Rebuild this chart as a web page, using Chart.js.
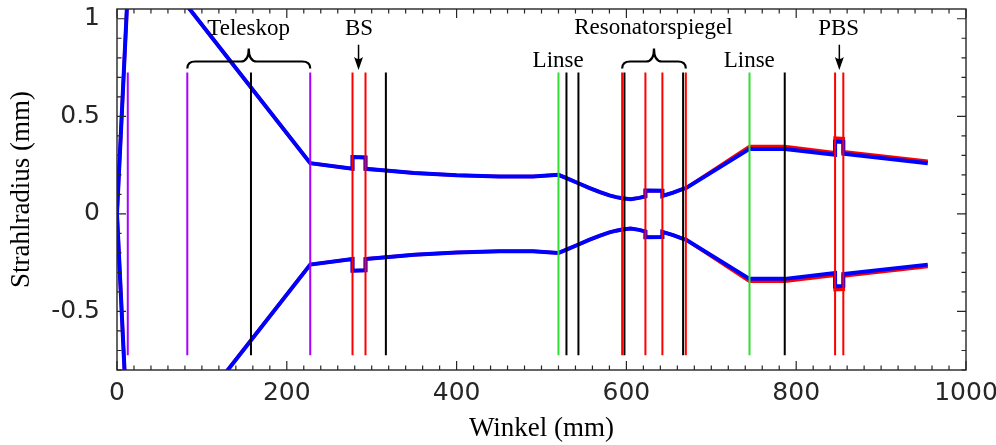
<!DOCTYPE html>
<html>
<head>
<meta charset="utf-8">
<script src="https://cdn.jsdelivr.net/npm/chart.js@4.4.0/dist/chart.umd.min.js"></script>
<style>
  html, body { margin: 0; padding: 0; background: #fff; }
  #wrap { width: 996px; height: 445px; }
</style>
</head>
<body>
<div id="wrap"><canvas id="chart" width="996" height="445"></canvas></div>
<script>
// beam positions along the path (mm); repeated x = step inside an element
const beamX = [0, 12.7, 82.8, 227.6, 277.4, 277.4, 292.7, 292.7, 316.7, 350, 400, 450, 490, 520,
  529.4, 543.5, 556, 569, 580, 588, 595, 605, 615, 622.4, 622.4, 642.4, 642.4, 655, 666.8, 670,
  745, 786.5, 845.8, 845.8, 855.5, 855.5, 955];

const blueUpper = [0, 1.15, 1.065, 0.26, 0.231, 0.291, 0.289, 0.231, 0.222, 0.21, 0.198, 0.191, 0.192, 0.2,
  0.183, 0.157, 0.133, 0.111, 0.095, 0.086, 0.08, 0.075, 0.082, 0.09, 0.12, 0.119, 0.092, 0.109, 0.128, 0.132,
  0.333, 0.333, 0.303, 0.371, 0.369, 0.308, 0.26];
const blueLower = [0, -1.15, -1.065, -0.26, -0.231, -0.291, -0.289, -0.231, -0.222, -0.21, -0.198, -0.191, -0.192, -0.2,
  -0.183, -0.157, -0.133, -0.111, -0.095, -0.086, -0.08, -0.075, -0.082, -0.09, -0.12, -0.119, -0.092, -0.109, -0.128, -0.132,
  -0.333, -0.333, -0.303, -0.371, -0.369, -0.308, -0.26];

const redUpper = [0, 1.15, 1.065, 0.26, 0.231, 0.291, 0.289, 0.231, 0.222, 0.21, 0.198, 0.191, 0.192, 0.2,
  0.183, 0.157, 0.133, 0.111, 0.095, 0.086, 0.08, 0.075, 0.082, 0.09, 0.12, 0.119, 0.092, 0.109, 0.128, 0.132,
  0.345, 0.345, 0.314, 0.388, 0.386, 0.318, 0.27];
const redLower = [0, -1.15, -1.065, -0.26, -0.231, -0.291, -0.289, -0.231, -0.222, -0.21, -0.198, -0.191, -0.192, -0.2,
  -0.183, -0.157, -0.133, -0.111, -0.095, -0.086, -0.08, -0.075, -0.082, -0.09, -0.12, -0.119, -0.092, -0.109, -0.128, -0.132,
  -0.345, -0.345, -0.314, -0.388, -0.386, -0.318, -0.27];

// optical elements (mm)
const purpleElements = [12.7, 82.8, 227.6];
const blackElements = [157.8, 316.7, 529.4, 543.5, 597.7, 666.8, 786.5];
const redElements = [277.4, 292.7, 595, 622.4, 642.4, 670, 845.8, 855.5];
const greenElements = [520, 745];
const elementSpan = [-0.725, 0.725];

const xTickValues = [0, 200, 400, 600, 800, 1000];
const yTickValues = [-0.5, 0, 0.5, 1];

// annotations
const labelTexts = ["Teleskop", "BS", "Resonatorspiegel", "Linse", "Linse", "PBS"];
const labelX = [155, 285, 631.8, 519.6, 744.7, 850];
const labelY = [0.918, 0.915, 0.92, 0.755, 0.755, 0.915];
const braceFrom = [82.8, 595];
const braceTo = [227.6, 670];
const arrowX = [284.5, 850.8];

const pts = (ys) => beamX.map((x, i) => ({ x, y: ys[i] }));

function elementPoints(xs) {
  const out = [];
  xs.forEach((x) => {
    out.push({ x, y: elementSpan[0] }, { x, y: elementSpan[1] }, { x, y: null });
  });
  return out;
}

const lineDefaults = { pointRadius: 0, fill: false, tension: 0, clip: 0, spanGaps: false };

const AXIS = "#262626";

const boxPlugin = {
  id: "box",
  afterDatasetsDraw(chart) {
    const { ctx, chartArea: a, scales } = chart;
    const xs = scales.x, ys = scales.y;
    ctx.save();
    ctx.strokeStyle = AXIS;
    ctx.lineWidth = 1.2;

    // inward ticks on all four sides
    for (let v = 0; v <= 1000.01; v += 20) {
      const px = xs.getPixelForValue(v);
      const len = Math.abs(v % 200) < 0.01 ? 9 : 4.5;
      ctx.beginPath();
      ctx.moveTo(px, a.bottom); ctx.lineTo(px, a.bottom - len);
      ctx.moveTo(px, a.top); ctx.lineTo(px, a.top + len);
      ctx.stroke();
    }
    for (let k = -8; k <= 10; k++) {
      const v = k / 10;
      const py = ys.getPixelForValue(v);
      const len = k % 5 === 0 ? 9 : 4.5;
      ctx.beginPath();
      ctx.moveTo(a.left, py); ctx.lineTo(a.left + len, py);
      ctx.moveTo(a.right, py); ctx.lineTo(a.right - len, py);
      ctx.stroke();
    }
    ctx.lineWidth = 1.4;
    ctx.strokeRect(a.left, a.top, a.right - a.left, a.bottom - a.top);

    // text labels
    ctx.fillStyle = "#000";
    ctx.font = "23px 'Liberation Serif'";
    ctx.textAlign = "center";
    ctx.textBaseline = "alphabetic";
    labelTexts.forEach((t, i) => {
      ctx.fillText(t, xs.getPixelForValue(labelX[i]), ys.getPixelForValue(labelY[i]));
    });

    // curly braces
    ctx.strokeStyle = "#000";
    ctx.lineWidth = 2.2;
    const tip = ys.getPixelForValue(0.745);
    const bar = tip - 7;
    const peak = bar - 13;
    const r = 8;
    braceFrom.forEach((f, i) => {
      const x1 = xs.getPixelForValue(f), x2 = xs.getPixelForValue(braceTo[i]);
      const cx = (x1 + x2) / 2;
      ctx.beginPath();
      ctx.moveTo(x1, tip);
      ctx.quadraticCurveTo(x1, bar, x1 + r, bar);
      ctx.lineTo(cx - r, bar);
      ctx.quadraticCurveTo(cx, bar, cx, peak);
      ctx.moveTo(x2, tip);
      ctx.quadraticCurveTo(x2, bar, x2 - r, bar);
      ctx.lineTo(cx + r, bar);
      ctx.quadraticCurveTo(cx, bar, cx, peak);
      ctx.stroke();
    });

    // arrows
    const aTop = ys.getPixelForValue(0.867), aTip = ys.getPixelForValue(0.738);
    arrowX.forEach((v) => {
      const px = xs.getPixelForValue(v);
      ctx.lineWidth = 1.5;
      ctx.beginPath();
      ctx.moveTo(px, aTop); ctx.lineTo(px, aTip - 6);
      ctx.stroke();
      ctx.beginPath();
      ctx.moveTo(px, aTip);
      ctx.lineTo(px - 4.5, aTip - 13);
      ctx.quadraticCurveTo(px, aTip - 9, px + 4.5, aTip - 13);
      ctx.closePath();
      ctx.fill();
    });
    ctx.restore();
  },
};

new Chart(document.getElementById("chart"), {
  type: "line",
  data: {
    datasets: [
      { ...lineDefaults, data: elementPoints(blackElements), borderColor: "#000000", borderWidth: 2 },
      { ...lineDefaults, data: elementPoints(redElements), borderColor: "#ff0000", borderWidth: 2 },
      { ...lineDefaults, data: elementPoints(purpleElements), borderColor: "#aa00ff", borderWidth: 2 },
      { ...lineDefaults, data: elementPoints(greenElements), borderColor: "#33dd33", borderWidth: 2 },
      { ...lineDefaults, data: pts(blueUpper), borderColor: "#0000ff", borderWidth: 4 },
      { ...lineDefaults, data: pts(blueLower), borderColor: "#0000ff", borderWidth: 4 },
      { ...lineDefaults, data: pts(redUpper), borderColor: "#ff0000", borderWidth: 3.5 },
      { ...lineDefaults, data: pts(redLower), borderColor: "#ff0000", borderWidth: 3.5 },
    ],
  },
  options: {
    responsive: false,
    animation: false,
    devicePixelRatio: 1,
    layout: { padding: { top: 9, right: 30, left: 0, bottom: 0 } },
    plugins: { legend: { display: false }, tooltip: { enabled: false } },
    scales: {
      x: {
        type: "linear",
        min: 0,
        max: 1000,
        grid: { display: false, drawTicks: false },
        border: { display: false },
        afterBuildTicks: (s) => { s.ticks = xTickValues.map((v) => ({ value: v })); },
        afterFit: (s) => { s.height = 75; s.paddingLeft = 0; s.paddingRight = 0; },
        ticks: {
          color: AXIS,
          padding: 8,
          maxRotation: 0,
          autoSkip: false,
          font: { family: "'DejaVu Sans'", size: 25 },
          callback: (v) => String(v),
        },
        title: {
          display: true,
          text: "Winkel (mm)",
          color: "#000",
          padding: 0,
          font: { family: "'Liberation Serif'", size: 27 },
        },
      },
      y: {
        type: "linear",
        min: -0.8,
        max: 1.05,
        grid: { display: false, drawTicks: false },
        border: { display: false },
        afterBuildTicks: (s) => { s.ticks = yTickValues.map((v) => ({ value: v })); },
        afterFit: (s) => { s.width = 117; s.paddingTop = 0; s.paddingBottom = 0; },
        ticks: {
          color: AXIS,
          padding: 17,
          autoSkip: false,
          font: { family: "'DejaVu Sans'", size: 25 },
          callback: (v) => String(v),
        },
        title: {
          display: true,
          text: "Strahlradius (mm)",
          color: "#000",
          padding: { top: 6, bottom: 0 },
          font: { family: "'Liberation Serif'", size: 27 },
        },
      },
    },
  },
  plugins: [boxPlugin],
});
</script>
</body>
</html>
